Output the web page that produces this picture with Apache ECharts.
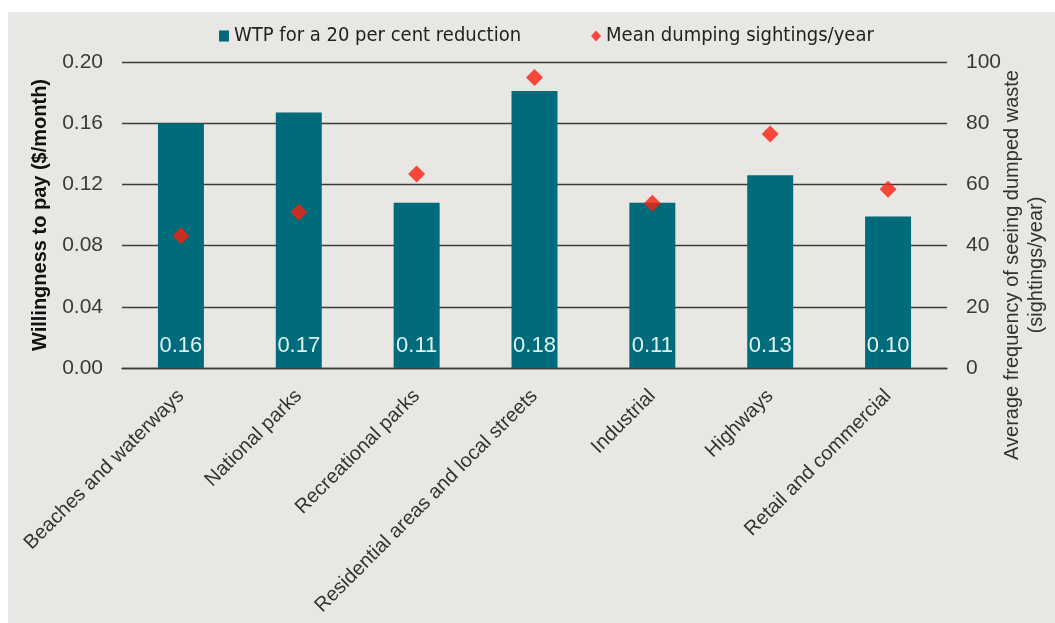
<!DOCTYPE html>
<html>
<head>
<meta charset="utf-8">
<script src="https://cdn.jsdelivr.net/npm/echarts@6/dist/echarts.min.js"></script>
<style>
  html, body { margin: 0; padding: 0; background: #ffffff; }
  #bg { position: absolute; left: 8px; top: 12px; width: 1047px; height: 611px; background: #E8E7E3; }
  #chart { position: absolute; left: 0; top: 0; width: 1055px; height: 623px; }
</style>
</head>
<body>
<div id="bg"></div>
<div id="chart"></div>
<script>
const categories = [
  'Beaches and waterways',
  'National parks',
  'Recreational parks',
  'Residential areas and local streets',
  'Industrial',
  'Highways',
  'Retail and commercial'
];
const wtpValues = [0.160, 0.167, 0.108, 0.181, 0.108, 0.126, 0.099];
const sightingsValues = [43.2, 50.9, 63.4, 94.9, 53.8, 76.5, 58.4];
const leftTicks = { min: 0, max: 0.20, interval: 0.04 };
const rightTicks = { min: 0, max: 100, interval: 20 };
const seriesNames = ['WTP for a 20 per cent reduction', 'Mean dumping sightings/year'];
const leftAxisName = 'Willingness to pay ($/month)';
const rightAxisNameLines = ['Average frequency of seeing dumped waste', '(sightings/year)'];

const chart = echarts.init(document.getElementById('chart'), null, { renderer: 'canvas' });
const BAR = '#006B7A';
const RED = '#F8200F';
const TXT = '#3a3a3a';
const GRID = '#3c3c3c';
const CONDENSED = "'DejaVu Sans Condensed', 'Roboto Condensed', 'Liberation Sans Narrow', Roboto, sans-serif";

chart.setOption({
  backgroundColor: 'transparent',
  animation: false,
  legend: {
    left: 214,
    top: 21,
    itemWidth: 10,
    itemHeight: 11,
    itemGap: 70,
    textStyle: { fontFamily: CONDENSED, fontSize: 20, color: '#222' },
    data: [
      { name: seriesNames[0], icon: 'rect' },
      { name: seriesNames[1], icon: 'diamond' }
    ]
  },
  grid: { left: 122, right: 108, top: 62, bottom: 255, containLabel: false },
  xAxis: {
    type: 'category',
    data: categories,
    axisLine: { show: true, lineStyle: { color: GRID, width: 1.3 } },
    axisTick: { show: false },
    axisLabel: {
      interval: 0,
      rotate: 45,
      margin: 25,
      verticalAlign: 'middle',
      fontFamily: 'Liberation Sans',
      fontSize: 20,
      color: '#333'
    }
  },
  yAxis: [
    {
      type: 'value',
      min: leftTicks.min, max: leftTicks.max, interval: leftTicks.interval,
      name: leftAxisName,
      nameLocation: 'middle',
      nameGap: 72,
      nameTextStyle: { fontFamily: 'Liberation Sans', fontWeight: 'bold', fontSize: 20, color: '#111' },
      axisLine: { show: false },
      axisTick: { show: false },
      axisLabel: {
        margin: 19,
        fontFamily: 'Liberation Sans',
        fontSize: 21,
        color: TXT,
        formatter: v => v.toFixed(2)
      },
      splitLine: { show: true, lineStyle: { color: GRID, width: 1.3 } }
    },
    {
      type: 'value',
      min: rightTicks.min, max: rightTicks.max, interval: rightTicks.interval,
      position: 'right',
      axisLine: { show: false },
      axisTick: { show: false },
      axisLabel: {
        margin: 19,
        fontFamily: 'Liberation Sans',
        fontSize: 21,
        color: TXT
      },
      splitLine: { show: false }
    }
  ],
  graphic: [
    {
      type: 'text',
      x: 1024,
      y: 265,
      rotation: Math.PI / 2,
      style: {
        text: rightAxisNameLines.join('\n'),
        fontFamily: 'Liberation Sans',
        fontSize: 20,
        lineHeight: 24,
        fill: '#333',
        align: 'center',
        verticalAlign: 'middle'
      }
    }
  ],
  series: [
    {
      name: seriesNames[0],
      type: 'bar',
      yAxisIndex: 0,
      data: wtpValues,
      barWidth: '39%',
      itemStyle: { color: BAR },
      label: {
        show: true,
        position: 'insideBottom',
        distance: 11,
        fontFamily: 'Liberation Sans',
        fontSize: 22,
        color: '#E2F0F0',
        formatter: p => p.value.toFixed(2)
      },
      z: 2
    },
    {
      name: seriesNames[1],
      type: 'scatter',
      yAxisIndex: 1,
      data: sightingsValues,
      symbol: 'diamond',
      symbolSize: 17,
      itemStyle: { color: RED },
      z: 3
    }
  ]
});
</script>
</body>
</html>
